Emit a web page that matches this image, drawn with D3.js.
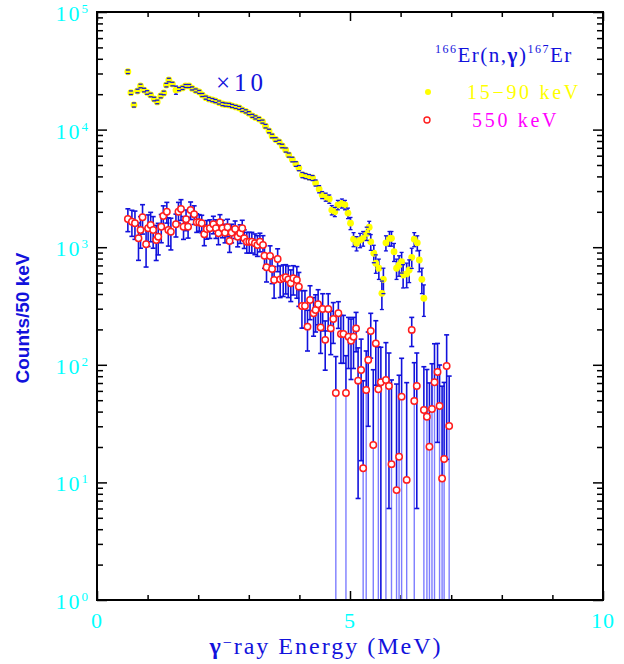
<!DOCTYPE html>
<html>
<head>
<meta charset="utf-8">
<script src="https://cdn.jsdelivr.net/npm/d3@7"></script>
<style>
  body { margin: 0; background: #fff; }
  text { font-family: "Liberation Serif", "Times New Roman", serif; }
</style>
</head>
<body>
<script>
// 15-90 keV data (plotted x10)
let lowEnergy = [0.61,0.67,0.73,0.80,0.86,0.93,0.99,1.06,1.13,1.19,
  1.26,1.32,1.37,1.42,1.49,1.56,1.62,1.69,1.75,1.82,
  1.88,1.95,2.02,2.08,2.15,2.21,2.28,2.34,2.41,2.48,
  2.54,2.61,2.67,2.74,2.81,2.87,2.94,3.00,3.07,3.13,
  3.20,3.27,3.33,3.40,3.46,3.53,3.60,3.66,3.73,3.79,
  3.86,3.93,3.99,4.06,4.12,4.19,4.26,4.32,4.39,4.45,
  4.52,4.59,4.64,4.70,4.76,4.84,4.90,4.96,5.01,5.07,
  5.13,5.20,5.26,5.33,5.38,5.41,5.47,5.51,5.57,5.63,
  5.66,5.71,5.78,5.82,5.87,5.92,5.97,6.02,6.05,6.12,
  6.17,6.22,6.27,6.33,6.37,6.42,6.46];
let lowCounts = [3105,2060,1620,2130,2350,2170,2070,1970,1820,1720,
  1930,2050,2390,2640,2440,2170,2210,2260,2350,2350,
  2240,2150,2090,1970,1870,1820,1785,1750,1700,1650,
  1630,1620,1590,1560,1530,1470,1430,1380,1310,1270,
  1230,1170,1070,973,883,824,785,726,671,608,
  557,510,471,411,403,395,388,352,312,278,
  267,257,207,200,229,236,229,195,160,117,
  108,115,119,131,148,111,88.8,73,66.2,40.5,
  53.3,109,119,119,91.6,66.2,70.6,75.3,58,59.2,
  64,82,117,109,77.8,53.3,36.8];
let lowErr = [109,72,65,75,82,76,72,69,64,60,
  68,72,84,92,85,174,66,68,70,70,
  67,65,63,59,56,55,54,53,51,50,
  49,49,48,47,46,44,43,41,39,38,
  37,35,37,34,31,29,27,25,27,24,
  25,23,24,21,20,20,19,21,22,19,
  21,21,19,18,21,21,21,20,19,16,
  15,16,17,17,18,17,15,13,13,11,
  13,16,17,17,16,13,14,15,13,14,
  14,16,16,16,16,13,11];
let lowScale = 10;

// 550 keV data
let highEnergy = [0.61,0.69,0.75,0.82,0.86,0.90,0.97,1.01,1.06,1.11,
  1.17,1.21,1.27,1.31,1.38,1.41,1.46,1.56,1.61,1.66,
  1.71,1.76,1.80,1.85,1.92,1.97,2.02,2.07,2.12,2.17,
  2.23,2.30,2.35,2.40,2.43,2.48,2.53,2.58,2.62,2.66,
  2.73,2.78,2.83,2.87,2.91,2.96,3.01,3.06,3.12,3.17,
  3.22,3.28,3.31,3.35,3.42,3.46,3.50,3.57,3.62,3.68,
  3.73,3.78,3.83,3.88,3.95,3.99,4.05,4.11,4.16,4.21,
  4.28,4.32,4.37,4.42,4.46,4.51,4.57,4.62,4.67,4.72,
  4.77,4.82,4.87,4.92,4.97,5.02,5.07,5.12,5.16,5.22,
  5.26,5.32,5.36,5.41,5.46,5.51,5.56,5.61,5.71,5.77,
  5.82,5.92,5.97,6.02,6.12,6.22,6.27,6.32,6.46,6.52,
  6.57,6.62,6.67,6.73,6.77,6.82,6.86,6.91,6.96];
let highCounts = [1738,1648,1597,1190,1400,1796,1059,1448,1545,1400,
  1151,1228,1494,1842,2004,1400,1355,1566,2004,2113,
  1494,1727,1494,2071,1905,1629,1629,1597,1288,1428,
  1448,1566,1448,1313,1629,1448,1328,1476,1129,1328,
  1428,1228,1313,1448,1190,1114,1114,1114,1080,1044,
  1114,1044,847,675,842,653,526,794,533,544,
  555,533,493,544,526,462,316,316,211,356,
  274,292,327,208,298,163,298,204,245,57.5,
  274,183,183,57.5,173,160,173,204,73.3,90.3,
  13.2,61.1,110,194,20.8,152,61.9,71,74.3,66,
  14.3,8.6,16.5,53.6,10.5,198,49.2,66,41.3,36.2,
  20.1,42.1,71,86.9,44.6,10.8,15.8,97.7,30.2];
let highErr = [382,412,431,417,420,503,381,434,433,420,
  380,368,403,405,401,378,407,345,401,423,
  329,345,299,352,343,293,261,271,258,257,
  261,266,261,263,261,246,239,251,226,239,
  243,221,236,246,214,223,223,223,216,209,
  201,209,186,169,185,163,158,175,160,163,
  155,160,148,152,158,148,111,111,80,114,
  99,102,108,83,104,73,104,82,93,60,
  70,80,80,62,80,85,80,75,66,75,
  60,70,80,80,70,85,80,70,80,60,
  60,60,65,60,60,55,55,60,55,55,
  50,60,80,65,55,55,55,82,50];

let xTicksMajor = [0, 5, 10];
let xTicksMinor = [1, 2, 3, 4, 6, 7, 8, 9];
let yExponents = [0, 1, 2, 3, 4, 5];

let width = 624, height = 664;
let plotLeft = 97, plotRight = 603, plotTop = 12, plotBottom = 600;

let blue = "#1212dc";
let lightBlue = "#7d7dff";
let cyan = "#00ffff";

let svg = d3.select("body").append("svg")
  .attr("width", width)
  .attr("height", height)
  .style("background", "#fff");

let x = d3.scaleLinear().domain([0, 10]).range([plotLeft, plotRight]);
let y = d3.scaleLog().domain([1, 1e5]).range([plotBottom, plotTop]);

let yMajor = yExponents.map(e => Math.pow(10, e));
let yMinor = [];
for (let e = 0; e < 5; e++) {
  for (let m = 2; m <= 9; m++) yMinor.push(m * Math.pow(10, e));
}

// axes: ticks point inwards on all four sides
function addAxis(axis, transform) {
  svg.append("g")
    .attr("transform", transform)
    .call(axis)
    .call(g => g.select(".domain").remove())
    .call(g => g.selectAll("line").attr("stroke", "#000").attr("stroke-width", 1.5));
}
addAxis(d3.axisLeft(y).tickValues(yMajor).tickSize(-10).tickFormat(""), `translate(${plotLeft},0)`);
addAxis(d3.axisLeft(y).tickValues(yMinor).tickSize(-6).tickFormat(""), `translate(${plotLeft},0)`);
addAxis(d3.axisRight(y).tickValues(yMajor).tickSize(-10).tickFormat(""), `translate(${plotRight},0)`);
addAxis(d3.axisRight(y).tickValues(yMinor).tickSize(-6).tickFormat(""), `translate(${plotRight},0)`);
addAxis(d3.axisBottom(x).tickValues(xTicksMajor).tickSize(-9).tickFormat(""), `translate(0,${plotBottom})`);
addAxis(d3.axisBottom(x).tickValues(xTicksMinor).tickSize(-5).tickFormat(""), `translate(0,${plotBottom})`);
addAxis(d3.axisTop(x).tickValues(xTicksMajor).tickSize(-9).tickFormat(""), `translate(0,${plotTop})`);
addAxis(d3.axisTop(x).tickValues(xTicksMinor).tickSize(-5).tickFormat(""), `translate(0,${plotTop})`);

// error bar stems, clipped part below 10^0 drawn lighter
function drawStems(energy, counts, errs, scale) {
  let g = svg.append("g");
  for (let i = 0; i < energy.length; i++) {
    let v = counts[i] * scale, e = errs[i] * scale;
    let px = x(energy[i]);
    let lo = v - e;
    g.append("line").attr("x1", px).attr("x2", px).attr("y1", y(v + e)).attr("y2", lo >= 1 ? y(lo) : y(v))
      .attr("stroke", blue).attr("stroke-width", 1.6);
    if (lo < 1) {
      g.append("line").attr("x1", px).attr("x2", px).attr("y1", y(v)).attr("y2", plotBottom)
        .attr("stroke", lightBlue).attr("stroke-width", 1.4);
    }
  }
}

// error bar caps
function drawCaps(energy, counts, errs, scale, capW, sw) {
  let g = svg.append("g");
  for (let i = 0; i < energy.length; i++) {
    let v = counts[i] * scale, e = errs[i] * scale;
    let px = x(energy[i]);
    let ends = [v + e];
    if (v - e >= 1) ends.push(v - e);
    ends.forEach(val => {
      g.append("line").attr("x1", px - capW / 2).attr("x2", px + capW / 2).attr("y1", y(val)).attr("y2", y(val))
        .attr("stroke", blue).attr("stroke-width", sw);
    });
  }
}

drawStems(highEnergy, highCounts, highErr, 1);
drawCaps(highEnergy, highCounts, highErr, 1, 5, 1.6);

svg.append("g").selectAll("circle")
  .data(highEnergy)
  .enter()
  .append("circle")
  .attr("cx", (d, i) => x(d))
  .attr("cy", (d, i) => y(highCounts[i]))
  .attr("r", 3.2)
  .attr("fill", "#fff")
  .attr("stroke", "#ff1e1e")
  .attr("stroke-width", 1.5);

drawStems(lowEnergy, lowCounts, lowErr, lowScale);

svg.append("g").selectAll("circle")
  .data(lowEnergy)
  .enter()
  .append("circle")
  .attr("cx", (d, i) => x(d))
  .attr("cy", (d, i) => y(lowCounts[i] * lowScale))
  .attr("r", 3.4)
  .attr("fill", "#ffff00");

// caps of the x10 series sit on top of its dots
drawCaps(lowEnergy, lowCounts, lowErr, lowScale, 4, 1.3);

// frame
svg.append("rect")
  .attr("x", plotLeft).attr("y", plotTop)
  .attr("width", plotRight - plotLeft).attr("height", plotBottom - plotTop)
  .attr("fill", "none").attr("stroke", "#000").attr("stroke-width", 2);

// y tick labels 10^n
yExponents.forEach(e => {
  let t = svg.append("text")
    .attr("x", 88)
    .attr("y", y(Math.pow(10, e)) + 9)
    .attr("text-anchor", "end")
    .attr("fill", cyan)
    .attr("font-size", 22)
    .attr("letter-spacing", 2);
  t.append("tspan").text("10");
  t.append("tspan").attr("dy", -8).attr("font-size", 13).attr("letter-spacing", 0).text(e);
});

// x tick labels
xTicksMajor.forEach(v => {
  svg.append("text")
    .attr("x", x(v))
    .attr("y", 628)
    .attr("text-anchor", "middle")
    .attr("fill", cyan)
    .attr("font-size", 22)
    .attr("letter-spacing", 1)
    .text(v);
});

// axis titles
let xt = svg.append("text")
  .attr("x", 326)
  .attr("y", 654)
  .attr("text-anchor", "middle")
  .attr("fill", blue)
  .attr("font-size", 24)
  .attr("letter-spacing", 2);
xt.append("tspan").attr("font-weight", "bold").text("γ");
xt.append("tspan").attr("dy", -6).attr("font-size", 16).text("−");
xt.append("tspan").attr("dy", 6).text("ray Energy (MeV)");

svg.append("text")
  .attr("transform", "translate(29,318) rotate(-90)")
  .attr("text-anchor", "middle")
  .attr("fill", blue)
  .attr("font-size", 19)
  .attr("font-weight", "bold")
  .style("font-family", "'Liberation Sans', Arial, sans-serif")
  .text("Counts/50 keV");

// x10 label
svg.append("text")
  .attr("x", 216)
  .attr("y", 91)
  .attr("fill", blue)
  .attr("font-size", 25)
  .attr("letter-spacing", 4)
  .text("×10");

// legend
let lt = svg.append("text")
  .attr("x", 435)
  .attr("y", 62)
  .attr("fill", blue)
  .attr("font-size", 21)
  .attr("letter-spacing", 1.5);
lt.append("tspan").attr("dy", -9).attr("font-size", 12).attr("letter-spacing", 1.5).text("166");
lt.append("tspan").attr("dy", 9).text("Er(n,");
lt.append("tspan").attr("font-weight", "bold").text("γ");
lt.append("tspan").text(")");
lt.append("tspan").attr("dy", -9).attr("font-size", 12).attr("letter-spacing", 1.5).text("167");
lt.append("tspan").attr("dy", 9).text("Er");

svg.append("circle").attr("cx", 428).attr("cy", 92).attr("r", 3).attr("fill", "#ffff00");
svg.append("text")
  .attr("x", 467).attr("y", 99)
  .attr("fill", "#ffff00")
  .attr("font-size", 20)
  .attr("letter-spacing", 2.7)
  .text("15−90 keV");

svg.append("circle").attr("cx", 427).attr("cy", 120).attr("r", 3)
  .attr("fill", "#fff").attr("stroke", "#ff1e1e").attr("stroke-width", 1.4);
svg.append("text")
  .attr("x", 472).attr("y", 127)
  .attr("fill", "#ff00ff")
  .attr("font-size", 20)
  .attr("letter-spacing", 2.7)
  .text("550 keV");
</script>
</body>
</html>
